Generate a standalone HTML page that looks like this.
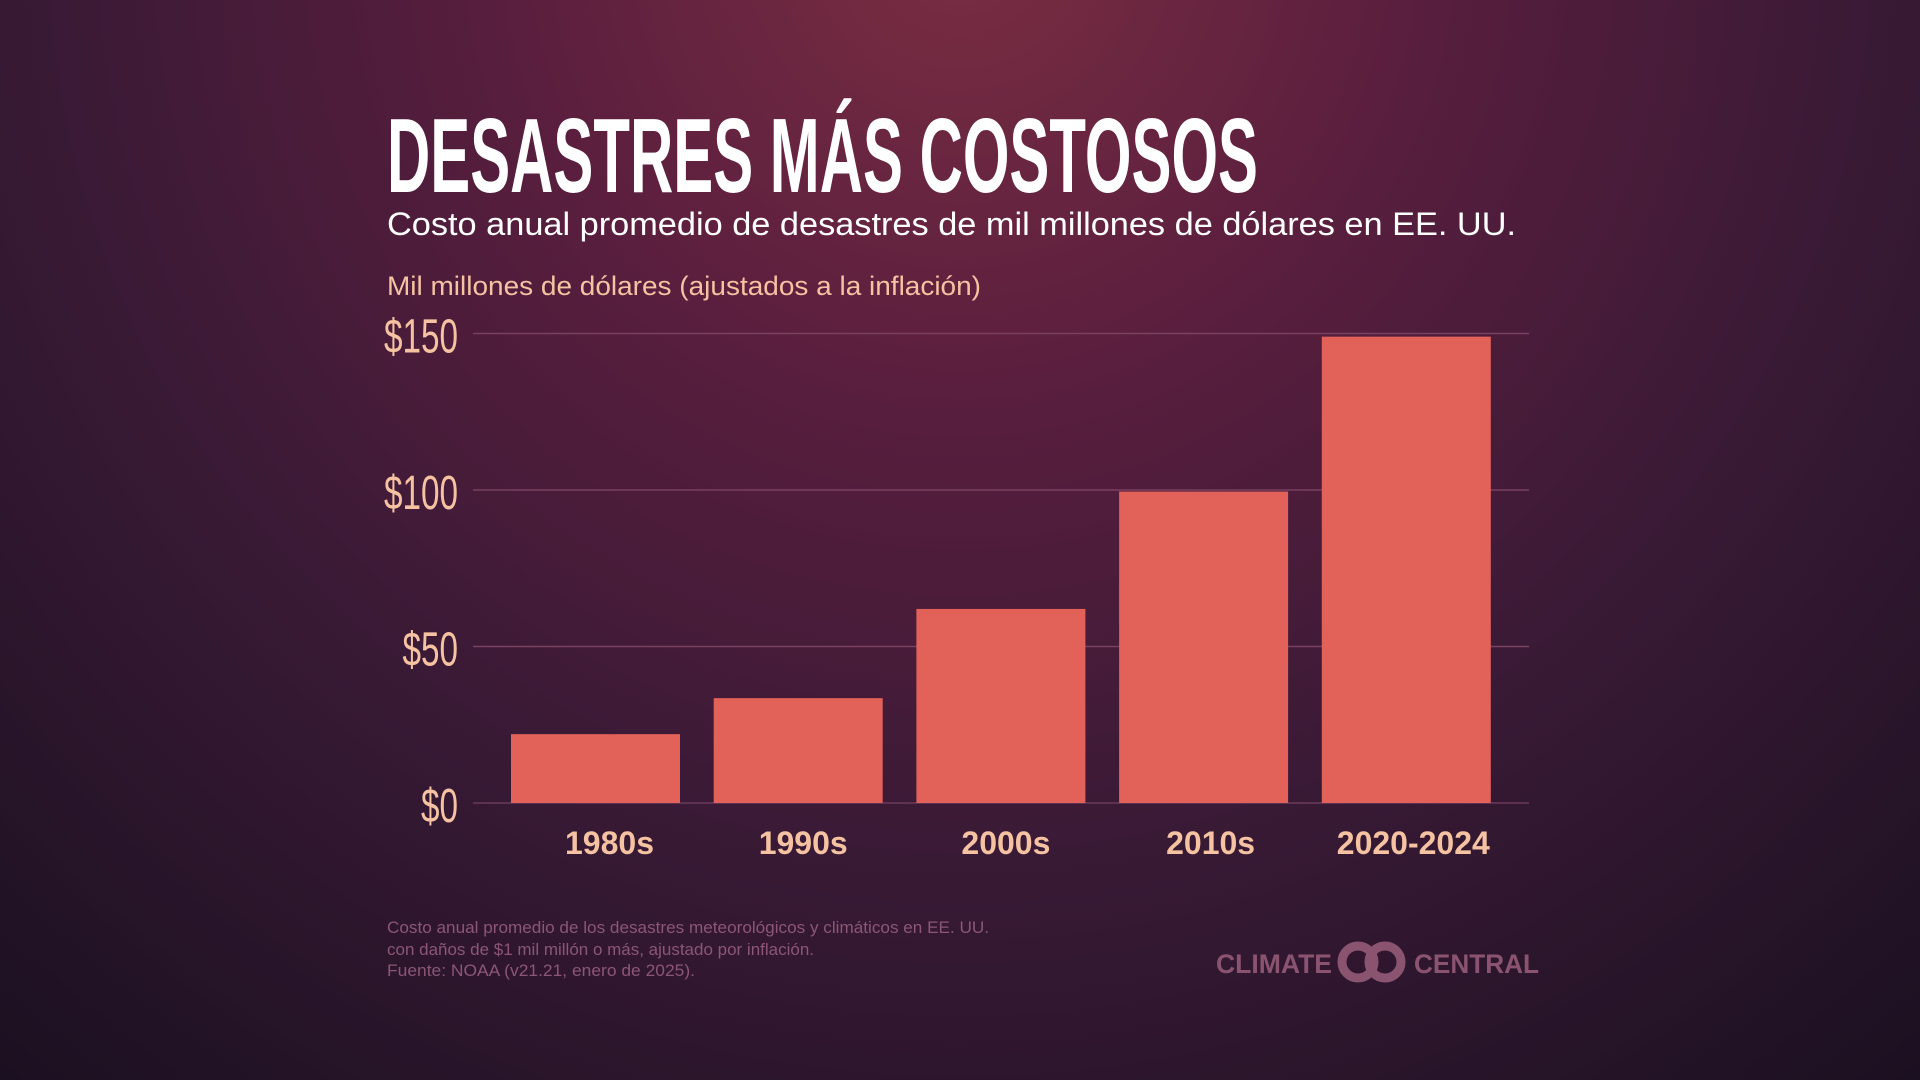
<!DOCTYPE html>
<html><head><meta charset="utf-8">
<style>
html,body{margin:0;padding:0;width:1920px;height:1080px;overflow:hidden;background:#2a1428;}
svg{display:block}
</style></head>
<body>
<svg width="1920" height="1080" viewBox="0 0 1920 1080" xmlns="http://www.w3.org/2000/svg" id="chart">
<defs>
<radialGradient id="bg" cx="960" cy="-60" r="1500" gradientUnits="userSpaceOnUse">
<stop offset="0" stop-color="#7a2e42"/>
<stop offset="0.3" stop-color="#5a1e3e"/>
<stop offset="0.6" stop-color="#3a1a36"/>
<stop offset="1" stop-color="#1a1020"/>
</radialGradient>
</defs>
<rect x="0" y="0" width="1920" height="1080" fill="url(#bg)"/>
<text x="387" y="192" font-family="Liberation Sans Narrow, Liberation Sans, sans-serif" font-weight="bold" font-size="106" fill="#ffffff" textLength="871" lengthAdjust="spacingAndGlyphs">DESASTRES MÁS COSTOSOS</text>
<text x="387" y="235" font-family="Liberation Sans, sans-serif" font-size="32" fill="#ffffff" textLength="1129" lengthAdjust="spacingAndGlyphs">Costo anual promedio de desastres de mil millones de dólares en EE. UU.</text>
<text x="387" y="295" font-family="Liberation Sans, sans-serif" font-size="27" fill="#f5c2a2" textLength="594" lengthAdjust="spacingAndGlyphs">Mil millones de dólares (ajustados a la inflación)</text>
<g id="grid"></g>
<g id="bars"></g>
<text x="387" y="933" font-family="Liberation Sans Narrow, Liberation Sans, sans-serif" font-size="17" fill="#8c5676" textLength="602" lengthAdjust="spacingAndGlyphs">Costo anual promedio de los desastres meteorológicos y climáticos en EE. UU.</text>
<text x="387" y="955" font-family="Liberation Sans Narrow, Liberation Sans, sans-serif" font-size="17" fill="#8c5676" textLength="427" lengthAdjust="spacingAndGlyphs">con daños de $1 mil millón o más, ajustado por inflación.</text>
<text x="387" y="976" font-family="Liberation Sans Narrow, Liberation Sans, sans-serif" font-size="17" fill="#8c5676" textLength="308" lengthAdjust="spacingAndGlyphs">Fuente: NOAA (v21.21, enero de 2025).</text>
<g fill="#8a5470">
<text x="1216" y="973" font-family="Liberation Sans, sans-serif" font-weight="bold" font-size="27" textLength="116" lengthAdjust="spacingAndGlyphs">CLIMATE</text>
<circle cx="1358" cy="962" r="16" fill="none" stroke="#8a5470" stroke-width="9"/>
<circle cx="1385" cy="962" r="16" fill="none" stroke="#8a5470" stroke-width="9"/>
<text x="1414" y="973" font-family="Liberation Sans, sans-serif" font-weight="bold" font-size="27" textLength="125" lengthAdjust="spacingAndGlyphs">CENTRAL</text>
</g>
</svg>
<script>
const categories = ["1980s","1990s","2000s","2010s","2020-2024"];
const values = [22, 33.5, 62, 99.5, 149];
const yTicks = [0, 50, 100, 150];
const yTickLabels = ["$0","$50","$100","$150"];

const NS = "http://www.w3.org/2000/svg";
const plotLeft = 473, plotRight = 1529, y0 = 803, pxPerUnit = 156.5/50;
function yScale(v){ return y0 - v*pxPerUnit; }
function xScale(i){ return 511 + i*202.7; }
const barW = 169;
const labelShift = [14, 5, 5, 7, 7];

const grid = document.getElementById('grid');
yTicks.forEach((t,i)=>{
  const ln = document.createElementNS(NS,'line');
  
  
  ln.setAttribute('x1', plotLeft); ln.setAttribute('x2', plotRight);
  ln.setAttribute('y1', yScale(t)); ln.setAttribute('y2', yScale(t));
  ln.setAttribute('stroke', i===0 ? '#6a3a5a' : '#7a4060');
  ln.setAttribute('stroke-width', '1.5');
  grid.appendChild(ln);
  const tx = document.createElementNS(NS,'text');
  
  
  tx.setAttribute('x', 458); tx.setAttribute('y', yScale(t)+19);
  tx.setAttribute('text-anchor','end');
  tx.setAttribute('font-family','Liberation Sans Narrow, Liberation Sans, sans-serif');
  tx.setAttribute('font-size','48');
  tx.setAttribute('fill','#f5c2a2');
  tx.textContent = yTickLabels[i];
  tx.setAttribute('textLength', yTickLabels[i].length*18.5);
  tx.setAttribute('lengthAdjust','spacingAndGlyphs');
  grid.appendChild(tx);
});

const bars = document.getElementById('bars');
categories.forEach((c,i)=>{
  const r = document.createElementNS(NS,'rect');
  
  
  r.setAttribute('x', xScale(i)); r.setAttribute('width', barW);
  r.setAttribute('y', yScale(values[i])); r.setAttribute('height', y0 - yScale(values[i]));
  r.setAttribute('fill', '#e2625a');
  bars.appendChild(r);
  const t = document.createElementNS(NS,'text');
  
  
  t.setAttribute('x', xScale(i)+barW/2 + labelShift[i]); t.setAttribute('y', 854);
  t.setAttribute('text-anchor','middle');
  t.setAttribute('font-family','Liberation Sans, sans-serif');
  t.setAttribute('font-weight','bold');
  t.setAttribute('font-size','32');
  t.setAttribute('fill','#f5c2a2');
  t.textContent = c;
  bars.appendChild(t);
});
</script>
</body></html>
